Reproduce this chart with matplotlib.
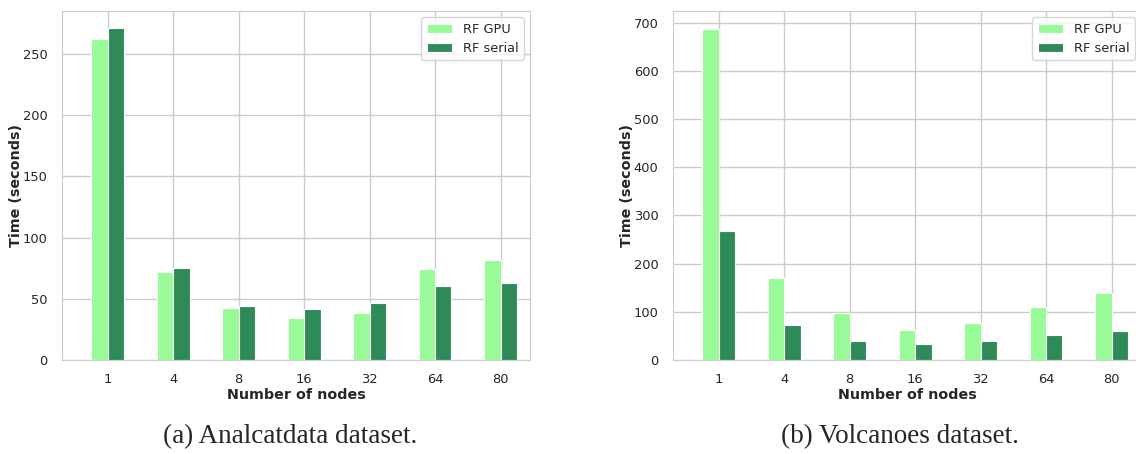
import numpy as np
import matplotlib
matplotlib.use('Agg')
import matplotlib.pyplot as plt
import seaborn as sns

nodes = ['1', '4', '8', '16', '32', '64', '80']

# analcatdata timings (seconds)
analcat_gpu = [262, 72, 42.5, 34.5, 38, 74, 82]
analcat_serial = [271, 75, 44, 41.5, 46.5, 60.5, 63]

# volcanoes timings (seconds)
volc_gpu = [687, 171, 97, 62, 76, 109, 139]
volc_serial = [267, 73, 40, 33, 40, 52, 61]

sns.set_style("whitegrid")
plt.rcParams['font.family'] = ['DejaVu Sans']

light = '#98FB98'
dark = '#2E8B57'

fig = plt.figure(figsize=(11.36, 4.54), dpi=100)
ax1 = fig.add_axes([62 / 1136, 1 - 360 / 454, 468 / 1136, 349 / 454])
ax2 = fig.add_axes([673 / 1136, 1 - 360 / 454, 468 / 1136, 349 / 454])

x = np.arange(len(nodes))
w = 0.25


def draw(ax, gpu, serial, ymax):
    ax.bar(x - w / 2, gpu, w, color=light, edgecolor='white', linewidth=0.8, label='RF GPU')
    ax.bar(x + w / 2, serial, w, color=dark, edgecolor='white', linewidth=0.8, label='RF serial')
    ax.set_xticks(x)
    ax.set_xticklabels(nodes)
    ax.set_xlim(-0.7, 6.45)
    ax.set_ylim(0, ymax)
    ax.set_xlabel('Number of nodes', fontsize=10.3, fontweight='bold', labelpad=1)
    ax.set_ylabel('Time (seconds)', fontsize=10.3, fontweight='bold', labelpad=0)
    ax.tick_params(axis='y', labelsize=9.4, colors='#262626', pad=7)
    ax.tick_params(axis='x', labelsize=9.4, colors='#262626', pad=6)
    ax.grid(True, color='#cccccc', linewidth=1)
    for sp in ax.spines.values():
        sp.set_color('#cccccc')
    ax.legend(loc='upper right', fontsize=9.3, frameon=True)


draw(ax1, analcat_gpu, analcat_serial, 285)
draw(ax2, volc_gpu, volc_serial, 724)

fig.text(290 / 1136, 1 - 437 / 454, '(a) Analcatdata dataset.', ha='center', va='center',
         family=['Liberation Serif'], fontsize=19.5)
fig.text(900 / 1136, 1 - 437 / 454, '(b) Volcanoes dataset.', ha='center', va='center',
         family=['Liberation Serif'], fontsize=19.5)

fig.savefig('out.png', dpi=100)
